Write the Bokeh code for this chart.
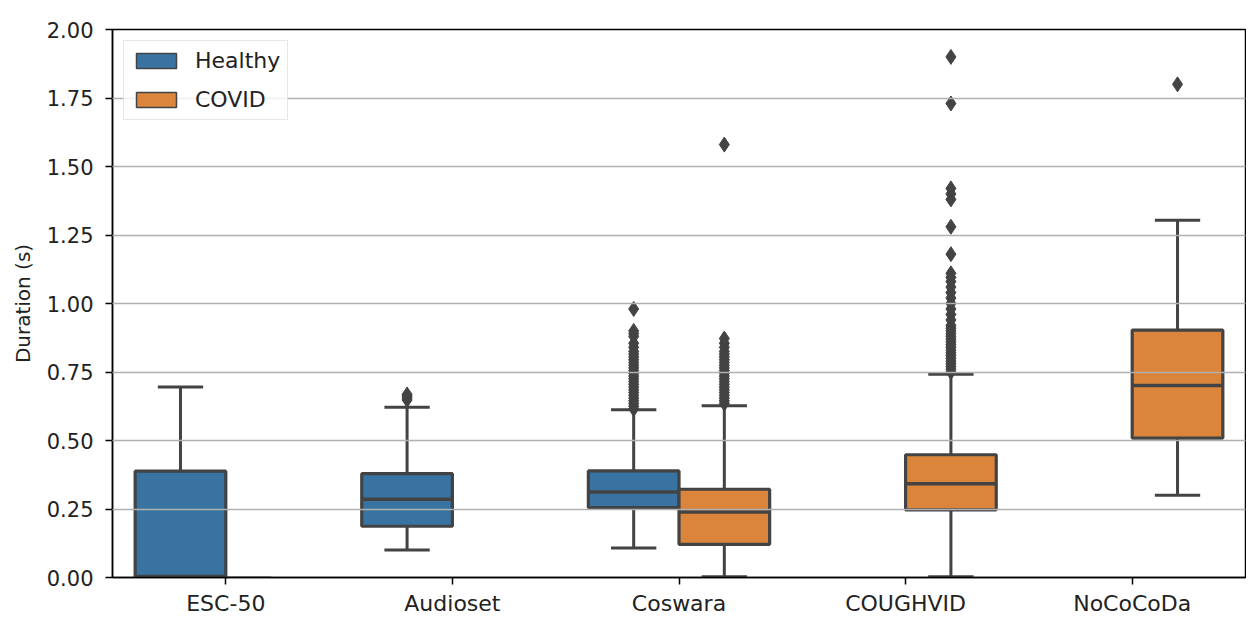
from bokeh.plotting import figure
from bokeh.models import (ColumnDataSource, FactorRange, Range1d, FixedTicker,
                          NumeralTickFormatter, Legend, LegendItem)
from bokeh.transform import dodge
from bokeh.embed import file_html
from bokeh.resources import INLINE

datasets = ["ESC-50", "Audioset", "Coswara", "COUGHVID", "NoCoCoDa"]
y_ticks = [0.0, 0.25, 0.5, 0.75, 1.0, 1.25, 1.5, 1.75, 2.0]

# Healthy boxes
healthy_cats = ["ESC-50", "Audioset", "Coswara"]
healthy_lo = [0.0, 0.100, 0.108]
healthy_q1 = [0.0, 0.187, 0.255]
healthy_med = [0.004, 0.286, 0.312]
healthy_q3 = [0.388, 0.379, 0.389]
healthy_hi = [0.695, 0.621, 0.612]

# COVID boxes
covid_cats = ["Coswara", "COUGHVID", "NoCoCoDa"]
covid_lo = [0.003, 0.003, 0.300]
covid_q1 = [0.121, 0.247, 0.509]
covid_med = [0.239, 0.342, 0.701]
covid_q3 = [0.322, 0.448, 0.903]
covid_hi = [0.627, 0.742, 1.304]

# Outliers
audioset_healthy_out = [0.648, 0.655, 0.662, 0.668]
coswara_healthy_out = [0.615, 0.625, 0.635, 0.645, 0.655, 0.665, 0.675, 0.685,
                       0.695, 0.705, 0.715, 0.725, 0.735, 0.745, 0.755, 0.765,
                       0.775, 0.785, 0.795, 0.805, 0.815, 0.825, 0.84, 0.855,
                       0.88, 0.89, 0.90, 0.98]
coswara_covid_out = [0.635, 0.645, 0.655, 0.665, 0.675, 0.685, 0.695, 0.705,
                     0.715, 0.725, 0.735, 0.745, 0.755, 0.765, 0.775, 0.785,
                     0.795, 0.805, 0.815, 0.825, 0.84, 0.855, 0.872, 1.58]
coughvid_covid_out = [0.75, 0.76, 0.77, 0.78, 0.79, 0.80, 0.81, 0.82, 0.83,
                      0.84, 0.85, 0.86, 0.87, 0.88, 0.89, 0.90, 0.91, 0.92,
                      0.94, 0.96, 0.98, 1.00, 1.02, 1.04, 1.06, 1.08, 1.095,
                      1.11, 1.18, 1.28, 1.38, 1.40, 1.42, 1.73, 1.90]
nococoda_covid_out = [1.80]

BLUE = "#3873a1"
ORANGE = "#da843c"
LINE = "#434343"
FONT = "DejaVu Sans"
TXT = "#222222"

p = figure(width=1246, height=620, x_range=FactorRange(factors=datasets),
           y_range=Range1d(0, 2), output_backend="svg", toolbar_location=None,
           min_border_left=112, min_border_right=1, min_border_top=29,
           min_border_bottom=43)
p.background_fill_color = "white"
p.outline_line_color = "black"
p.outline_line_width = 1.5

# grid
p.xgrid.visible = False
p.ygrid.grid_line_color = "#b0b0b0"
p.ygrid.grid_line_width = 1.5
p.ygrid.level = "overlay"

# axes
p.yaxis.ticker = FixedTicker(ticks=y_ticks)
p.yaxis.formatter = NumeralTickFormatter(format="0.00")
p.yaxis.axis_label = "Duration (s)"
for ax in (p.xaxis[0], p.yaxis[0]):
    ax.axis_line_color = "black"
    ax.axis_line_width = 1.5
    ax.major_tick_line_color = "black"
    ax.major_tick_line_width = 1.5
    ax.major_tick_out = 7
    ax.major_tick_in = 0
    ax.minor_tick_line_color = None
    ax.major_label_text_font = FONT
    ax.major_label_text_color = TXT
    ax.axis_label_text_font = FONT
    ax.axis_label_text_color = TXT
    ax.axis_label_text_font_style = "normal"
p.yaxis.major_label_text_font_size = "21px"
p.yaxis.major_label_standoff = 12
p.yaxis.axis_label_text_font_size = "20px"
p.yaxis.axis_label_standoff = 9
p.xaxis.major_label_text_font_size = "22px"
p.xaxis.major_label_standoff = 6


def draw(cats, lo, q1, med, q3, hi, off, color):
    src = ColumnDataSource(dict(cat=cats, lo=lo, q1=q1, med=med, q3=q3, hi=hi))
    xr = p.x_range
    # whiskers
    p.segment(x0=dodge("cat", off, range=xr), x1=dodge("cat", off, range=xr),
              y0="q3", y1="hi", source=src, line_color=LINE, line_width=3)
    p.segment(x0=dodge("cat", off, range=xr), x1=dodge("cat", off, range=xr),
              y0="q1", y1="lo", source=src, line_color=LINE, line_width=3)
    # caps
    for fld in ("hi", "lo"):
        p.segment(x0=dodge("cat", off - 0.1, range=xr),
                  x1=dodge("cat", off + 0.1, range=xr),
                  y0=fld, y1=fld, source=src, line_color=LINE, line_width=3)
    # box
    p.vbar(x=dodge("cat", off, range=xr), width=0.4, top="q3", bottom="q1",
           source=src, fill_color=color, line_color=LINE, line_width=3.2)
    # median
    p.segment(x0=dodge("cat", off - 0.2, range=xr),
              x1=dodge("cat", off + 0.2, range=xr),
              y0="med", y1="med", source=src, line_color=LINE, line_width=3.5)


draw(healthy_cats, healthy_lo, healthy_q1, healthy_med, healthy_q3, healthy_hi,
     -0.2, BLUE)
draw(covid_cats, covid_lo, covid_q1, covid_med, covid_q3, covid_hi, 0.2, ORANGE)


def outliers(cat, vals, off):
    src = ColumnDataSource(dict(cat=[cat] * len(vals), v=vals))
    p.scatter(x=dodge("cat", off, range=p.x_range), y="v", source=src,
              marker="diamond", size=15, fill_color=LINE, line_color=LINE,
              line_width=1)


outliers("Audioset", audioset_healthy_out, -0.2)
outliers("Coswara", coswara_healthy_out, -0.2)
outliers("Coswara", coswara_covid_out, 0.2)
outliers("COUGHVID", coughvid_covid_out, 0.2)
outliers("NoCoCoDa", nococoda_covid_out, 0.2)

# legend proxies (drawn below the visible y range, so only the legend shows them)
proxy_h = ColumnDataSource(dict(cat=["ESC-50"], t=[-1.0], b=[-1.2]))
proxy_c = ColumnDataSource(dict(cat=["ESC-50"], t=[-1.0], b=[-1.2]))
rh = p.vbar(x="cat", top="t", bottom="b", width=0.4, source=proxy_h,
            fill_color=BLUE, line_color=LINE, line_width=1.5)
rc = p.vbar(x="cat", top="t", bottom="b", width=0.4, source=proxy_c,
            fill_color=ORANGE, line_color=LINE, line_width=1.5)
legend = Legend(items=[LegendItem(label="Healthy", renderers=[rh]),
                       LegendItem(label="COVID", renderers=[rc])],
                location="top_left")
legend.margin = 11
legend.padding = 7
legend.spacing = 14
legend.glyph_width = 50
legend.glyph_height = 19
legend.label_height = 20
legend.label_standoff = 14
legend.label_text_font = FONT
legend.label_text_font_size = "22px"
legend.label_text_color = TXT
legend.border_line_color = "#d0d0d0"
legend.border_line_width = 1.5
legend.background_fill_alpha = 0.8
p.add_layout(legend)

open("out.html", "w").write(file_html(p, INLINE))
